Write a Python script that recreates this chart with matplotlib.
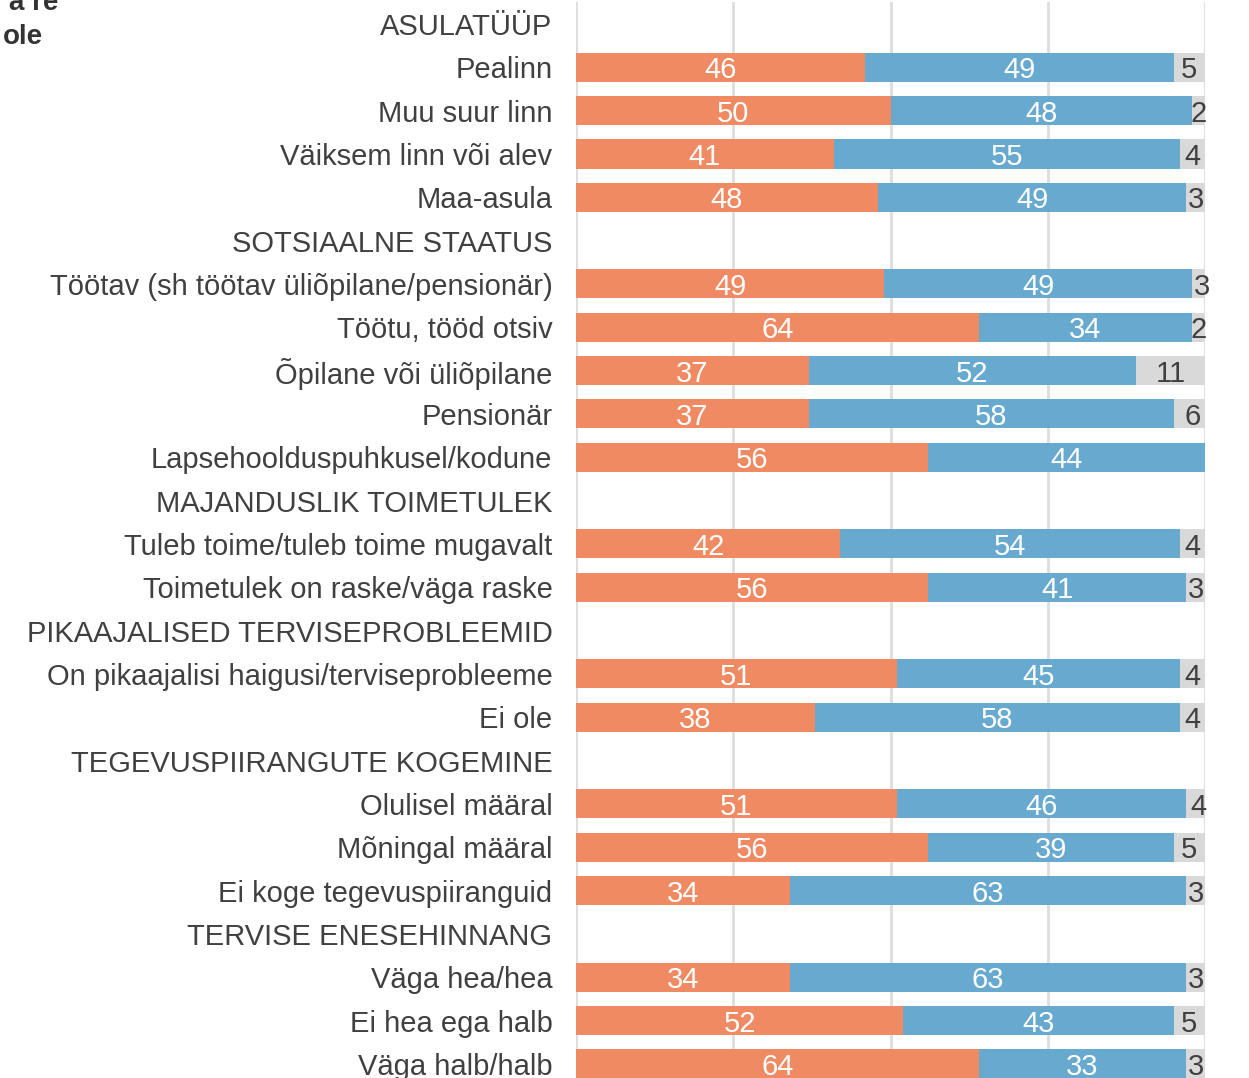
import matplotlib
matplotlib.use('Agg')
import matplotlib.pyplot as plt
import numpy as np

# ---- data ----
labels = [
    'ASULATÜÜP', 'Pealinn', 'Muu suur linn', 'Väiksem linn või alev', 'Maa-asula',
    'SOTSIAALNE STAATUS', 'Töötav (sh töötav üliõpilane/pensionär)', 'Töötu, tööd otsiv',
    'Õpilane või üliõpilane', 'Pensionär', 'Lapsehoolduspuhkusel/kodune',
    'MAJANDUSLIK TOIMETULEK', 'Tuleb toime/tuleb toime mugavalt', 'Toimetulek on raske/väga raske',
    'PIKAAJALISED TERVISEPROBLEEMID', 'On pikaajalisi haigusi/terviseprobleeme', 'Ei ole',
    'TEGEVUSPIIRANGUTE KOGEMINE', 'Olulisel määral', 'Mõningal määral', 'Ei koge tegevuspiiranguid',
    'TERVISE ENESEHINNANG', 'Väga hea/hea', 'Ei hea ega halb', 'Väga halb/halb',
]
# None = header row (no bar)
orange = [None, 46, 50, 41, 48, None, 49, 64, 37, 37, 56, None, 42, 56, None, 51, 38, None, 51, 56, 34, None, 34, 52, 64]
blue   = [None, 49, 48, 55, 49, None, 49, 34, 52, 58, 44, None, 54, 41, None, 45, 58, None, 46, 39, 63, None, 63, 43, 33]
grey   = [None, 5, 2, 4, 3, None, 3, 2, 11, 6, 0, None, 4, 3, None, 4, 4, None, 4, 5, 3, None, 3, 5, 3]

C_OR = '#EF8A62'
C_BL = '#67A9CF'
C_GR = '#D9D9D9'
TXT = '#404040'

plt.rcParams['font.family'] = ['Liberation Sans', 'DejaVu Sans']

W, H = 1249, 1078
fig = plt.figure(figsize=(W / 100, H / 100), dpi=100)

# axes placed in pixel terms; bottom bars run off the image like the reference crop
n = len(labels)
row_h = 43.33
top_px = 24 - row_h * 0.5
bot_px = 24 + row_h * (n - 1) + row_h * 0.5
ax = fig.add_axes([576 / W, 1 - bot_px / H, 629 / W, (bot_px - top_px) / H])

y = np.arange(n)
for i in range(n):
    if orange[i] is None:
        continue
    o, b, g = orange[i], blue[i], grey[i]
    ax.barh(i, o, left=0, height=0.67, color=C_OR, zorder=2)
    ax.barh(i, b, left=o, height=0.67, color=C_BL, zorder=2)
    if g:
        ax.barh(i, g, left=o + b, height=0.67, color=C_GR, zorder=2)
    ax.text(o / 2, i, str(o), ha='center', va='center_baseline', color='white', fontsize=21, zorder=3)
    ax.text(o + b / 2, i, str(b), ha='center', va='center_baseline', color='white', fontsize=21, zorder=3)
    if g:
        ax.text(o + b + g / 2, i, str(g), ha='center', va='center_baseline', color=TXT, fontsize=21,
                zorder=3, clip_on=False)

ax.set_xlim(0, 100)
ax.set_ylim(n - 0.5, -0.5)
ax.set_xticks([0, 25, 50, 75, 100])
ax.xaxis.grid(True, color='#DDDDDD', linewidth=2, zorder=0)
ax.set_axisbelow(True)
ax.tick_params(axis='x', length=0, labelbottom=False)
ax.set_yticks(y)
ax.set_yticklabels(labels, fontsize=21, color=TXT, va='center_baseline')
ax.tick_params(axis='y', length=0, pad=17)
for s in ax.spines.values():
    s.set_visible(False)

# title fragments cut off by the crop in the top-left corner
fig.text(58 / W, 1 - 3 / H, 'a re', ha='right', va='center',
         fontsize=20, fontweight='bold', color='#333333')
fig.text(43 / W, 1 - 37 / H, 'ole', ha='right', va='center',
         fontsize=20, fontweight='bold', color='#333333')

fig.savefig('out.png', dpi=100)
